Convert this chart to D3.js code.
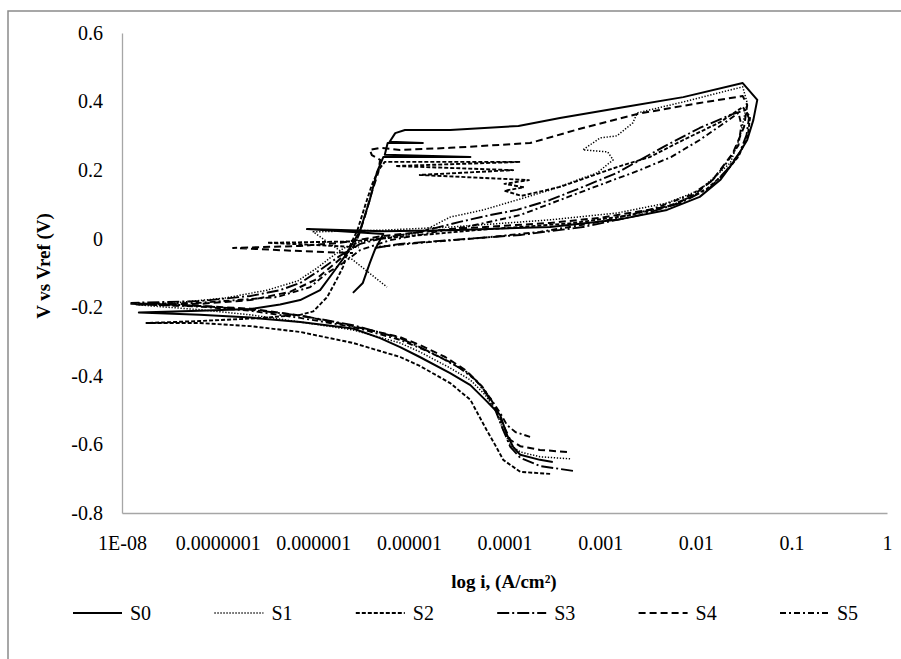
<!DOCTYPE html>
<html>
<head>
<meta charset="utf-8">
<script src="https://cdn.jsdelivr.net/npm/d3@7"></script>
<style>
  body { margin: 0; background: #fff; }
  svg { display: block; }
  text { font-family: "Liberation Serif", "Times New Roman", Times, serif; }
  .tick text { font-family: "Liberation Serif", "Times New Roman", Times, serif; font-size: 20px; fill: #000; }
</style>
</head>
<body>
<script>
// Series names and tick values
var seriesNames = ["S0", "S1", "S2", "S3", "S4", "S5"];
var xTickValues = [1e-8, 1e-7, 1e-6, 1e-5, 1e-4, 1e-3, 1e-2, 1e-1, 1];
var xTickLabels = ["1E-08", "0.0000001", "0.000001", "0.00001", "0.0001", "0.001", "0.01", "0.1", "1"];
var yTickValues = [-0.8, -0.6, -0.4, -0.2, 0, 0.2, 0.4, 0.6];
var yTickLabels = ["-0.8", "-0.6", "-0.4", "-0.2", "0", "0.2", "0.4", "0.6"];

// [current density (A/cm2), potential (V)], cathodic end first
var s0 = [
  [3.2e-4,-0.651],[2.35e-4,-0.645],[1.46e-4,-0.630],[1.23e-4,-0.607],[1.06e-4,-0.572],[9.0e-5,-0.514],
  [6.3e-5,-0.470],[4.4e-5,-0.427],[2.7e-5,-0.392],[1.3e-5,-0.345],[8.1e-6,-0.316],[5.0e-6,-0.290],
  [2.6e-6,-0.262],[7.3e-7,-0.243],[2.2e-7,-0.230],[6.5e-8,-0.222],[1.5e-8,-0.215],
  [6.5e-8,-0.210],[2.2e-7,-0.205],[4.5e-7,-0.192],[7.3e-7,-0.179],[1.18e-6,-0.150],[1.6e-6,-0.100],
  [2.26e-6,-0.042],[3.1e-6,0.025],[3.9e-6,0.113],[4.65e-6,0.195],[5.4e-6,0.238],[4.4e-5,0.238],
  [5.6e-6,0.245],[6.0e-6,0.279],[1.4e-5,0.279],[6.3e-6,0.283],[7.2e-6,0.308],[9.1e-6,0.317],
  [2.7e-5,0.317],[1.4e-4,0.329],[3.8e-4,0.352],[1.8e-3,0.384],[7.4e-3,0.413],[3.1e-2,0.454],
  [4.4e-2,0.405],[4.0e-2,0.346],[3.45e-2,0.288],[2.7e-2,0.238],[1.8e-2,0.171],[1.1e-2,0.122],
  [5.0e-3,0.084],[1.5e-3,0.055],[3.0e-4,0.034],[2.7e-5,0.025],[5.4e-6,0.022],[8.6e-7,0.028],
  [5.4e-6,0.014],[4.4e-6,-0.033],[3.9e-6,-0.071],[3.3e-6,-0.129],[2.6e-6,-0.158]
];
var s1 = [
  [4.85e-4,-0.642],[2.35e-4,-0.636],[1.46e-4,-0.622],[1.15e-4,-0.602],[9.7e-5,-0.558],[8.0e-5,-0.499],
  [6.3e-5,-0.456],[4.4e-5,-0.412],[2.7e-5,-0.377],[1.3e-5,-0.330],[8.1e-6,-0.304],[2.6e-6,-0.266],
  [7.3e-7,-0.243],[2.2e-7,-0.222],[6.5e-8,-0.207],[2.0e-8,-0.196],[1.4e-8,-0.192],
  [3.6e-8,-0.187],[1.2e-7,-0.173],[3.3e-7,-0.150],[6.9e-7,-0.123],[1.1e-6,-0.085],[1.5e-6,-0.056],
  [2.1e-6,-0.027],[3.1e-6,-0.010],[5.0e-6,0.000],[1.3e-5,0.017],[2.7e-5,0.063],[6.0e-5,0.084],
  [1.35e-4,0.113],[3.0e-4,0.142],[9.3e-4,0.192],[1.37e-3,0.230],[1.2e-3,0.253],[6.6e-4,0.259],
  [1.0e-3,0.294],[1.5e-3,0.300],[2.2e-3,0.338],[2.45e-3,0.367],[7.4e-3,0.399],[3.1e-2,0.443],
  [3.45e-2,0.396],[2.9e-2,0.297],[2.3e-2,0.221],[1.1e-2,0.142],[5.0e-3,0.104],[1.5e-3,0.075],
  [3.0e-4,0.055],[2.7e-5,0.034],[5.4e-6,0.025],[1.0e-6,0.020],[2.6e-6,-0.062],[5.9e-6,-0.141]
];
var s2 = [
  [3.0e-4,-0.686],[1.46e-4,-0.680],[9.7e-5,-0.645],[8.0e-5,-0.602],[6.5e-5,-0.558],[5.0e-5,-0.499],
  [4.4e-5,-0.470],[2.7e-5,-0.421],[1.3e-5,-0.371],[8.1e-6,-0.345],[2.6e-6,-0.304],[7.3e-7,-0.272],
  [2.2e-7,-0.255],[6.5e-8,-0.246],[1.8e-8,-0.246],
  [6.5e-8,-0.240],[2.6e-7,-0.232],[7.3e-7,-0.222],[1.0e-6,-0.212],[1.4e-6,-0.170],[1.75e-6,-0.120],
  [2.05e-6,-0.082],[2.26e-6,-0.042],[2.5e-6,-0.012],[2.9e-6,0.025],[3.5e-6,0.098],[4.1e-6,0.157],
  [4.8e-6,0.200],[5.6e-6,0.224],[1.46e-4,0.224],[7.2e-6,0.212],[1.23e-4,0.200],[1.3e-5,0.186],
  [1.8e-4,0.171],[1.0e-4,0.160],[1.6e-4,0.150],[1.0e-4,0.140],[1.5e-4,0.125],[3.8e-4,0.151],
  [1.5e-3,0.209],[3.3e-3,0.238],[7.4e-3,0.288],[1.8e-2,0.340],[3.1e-2,0.384],
  [3.7e-2,0.355],[3.5e-2,0.300],[2.8e-2,0.240],[2.0e-2,0.190],[1.3e-2,0.145],[6.0e-3,0.100],
  [2.0e-3,0.068],[5.0e-4,0.045],[5.0e-5,0.025],[8.0e-6,0.005],[2.5e-6,-0.008],[3.3e-7,-0.012],
  [1.0e-6,-0.018],[3.0e-6,-0.025]
];
var s3 = [
  [5.2e-4,-0.677],[2.35e-4,-0.663],[1.46e-4,-0.639],[1.15e-4,-0.607],[9.7e-5,-0.558],[8.0e-5,-0.499],
  [6.6e-5,-0.456],[5.0e-5,-0.412],[3.4e-5,-0.377],[2.1e-5,-0.345],[1.3e-5,-0.316],[8.1e-6,-0.290],
  [2.6e-6,-0.252],[7.3e-7,-0.224],[2.2e-7,-0.207],[6.5e-8,-0.196],[1.25e-8,-0.187],
  [6.5e-8,-0.182],[2.2e-7,-0.167],[4.5e-7,-0.150],[7.3e-7,-0.129],[1.18e-6,-0.091],[1.9e-6,-0.050],
  [3.1e-6,-0.015],[5.4e-6,0.002],[1.3e-5,0.020],[3.4e-5,0.049],[7.1e-5,0.069],[1.35e-4,0.084],
  [3.0e-4,0.113],[6.6e-4,0.151],[1.5e-3,0.192],[4.6e-3,0.268],[1.1e-2,0.323],[2.3e-2,0.361],
  [3.3e-2,0.375],
  [3.6e-2,0.352],[3.4e-2,0.303],[2.9e-2,0.253],[2.1e-2,0.200],[1.4e-2,0.148],[6.9e-3,0.104],
  [2.6e-3,0.069],[6.6e-4,0.034],[1.46e-4,0.011],[2.7e-5,-0.004],[8.1e-6,-0.015],[4.4e-6,-0.027]
];
var s4 = [
  [4.5e-4,-0.622],[2.35e-4,-0.616],[1.46e-4,-0.605],[1.15e-4,-0.587],[9.7e-5,-0.543],[8.3e-5,-0.499],
  [7.1e-5,-0.465],[5.6e-5,-0.427],[3.9e-5,-0.383],[2.4e-5,-0.345],[1.3e-5,-0.310],[8.1e-6,-0.287],
  [2.6e-6,-0.255],[7.3e-7,-0.224],[2.2e-7,-0.204],[6.5e-8,-0.196],[1.4e-8,-0.192],
  [6.5e-8,-0.190],[2.2e-7,-0.179],[5.7e-7,-0.155],[1.05e-6,-0.120],[1.7e-6,-0.071],[2.6e-6,-0.027],
  [3.0e-6,0.011],[3.5e-6,0.069],[4.1e-6,0.136],[4.8e-6,0.195],[5.0e-6,0.230],[4.1e-6,0.244],
  [3.9e-6,0.259],[5.0e-6,0.265],[8.1e-6,0.259],[2.7e-5,0.265],[1.85e-4,0.279],[6.6e-4,0.323],
  [2.45e-3,0.364],[1.1e-2,0.396],[3.1e-2,0.416],
  [3.45e-2,0.390],[3.2e-2,0.326],[2.45e-2,0.250],[1.5e-2,0.171],[9.0e-3,0.122],[5.0e-3,0.093],
  [1.0e-3,0.061],[3.0e-4,0.046],[2.7e-5,0.028],[5.4e-6,0.008],[1.9e-6,-0.012],[7.3e-7,-0.021],
  [1.45e-7,-0.027],[7.3e-7,-0.036],[2.6e-6,-0.042]
];
var s5 = [
  [1.85e-4,-0.578],[1.3e-4,-0.564],[1.06e-4,-0.543],[9.0e-5,-0.508],[7.3e-5,-0.470],[5.8e-5,-0.430],
  [4.2e-5,-0.392],[2.7e-5,-0.360],[1.45e-5,-0.324],[8.1e-6,-0.295],[2.6e-6,-0.257],[7.3e-7,-0.231],
  [2.2e-7,-0.210],[6.5e-8,-0.198],[1.25e-8,-0.190],
  [6.5e-8,-0.187],[2.2e-7,-0.176],[4.2e-7,-0.170],[9.3e-7,-0.141],[1.4e-6,-0.100],[2.05e-6,-0.071],
  [3.1e-6,-0.033],[6.4e-6,-0.004],[1.67e-5,0.017],[4.4e-5,0.037],[1.46e-4,0.069],[3.8e-4,0.113],
  [1.0e-3,0.157],[2.6e-3,0.200],[5.5e-3,0.238],[1.1e-2,0.288],[2.0e-2,0.338],[2.8e-2,0.367],
  [3.0e-2,0.332],[2.8e-2,0.273],[2.1e-2,0.221],[1.5e-2,0.171],[9.0e-3,0.128],[3.3e-3,0.084],
  [1.0e-3,0.049],[2.35e-4,0.020],[5.6e-5,0.002],[1.3e-5,-0.012],[4.65e-6,-0.024]
];

var allSeries = [s0, s1, s2, s3, s4, s5];

// line look per series (solid, dotted, short dash, long dash-dot, dash, dash-dot)
var dashes = [null, "1.3,1.7", "4,2", "12,3,2,3", "7,4", "6,3,2,3"];
var widths = [2, 1.5, 1.9, 1.9, 2, 1.9];

var svgWidth = 901;
var svgHeight = 659;

var margin = { top: 33, right: 14, bottom: 146, left: 122 };
var width = 887 - margin.left;
var height = 513 - margin.top;

var svg = d3.select("body")
  .append("svg")
  .attr("width", svgWidth)
  .attr("height", svgHeight);

// outer chart frame
svg.append("rect")
  .attr("x", 8)
  .attr("y", 11)
  .attr("width", 1000)
  .attr("height", 1000)
  .attr("fill", "none")
  .attr("stroke", "#8a8a8a")
  .attr("stroke-width", 1.5);

var chartGroup = svg.append("g")
  .attr("transform", `translate(${margin.left}, ${margin.top})`);

// Scales
var xScale = d3.scaleLog()
  .domain([1e-8, 1])
  .range([0, width]);

var yScale = d3.scaleLinear()
  .domain([-0.8, 0.6])
  .range([height, 0]);

// Axes
var bottomAxis = d3.axisBottom(xScale)
  .tickValues(xTickValues)
  .tickFormat(function(d, i) { return xTickLabels[i]; })
  .tickSize(0)
  .tickPadding(23);

var leftAxis = d3.axisLeft(yScale)
  .tickValues(yTickValues)
  .tickFormat(function(d, i) { return yTickLabels[i]; })
  .tickSize(0)
  .tickPadding(19);

var xAxisG = chartGroup.append("g")
  .attr("transform", `translate(0, ${height})`)
  .call(bottomAxis);

var yAxisG = chartGroup.append("g")
  .call(leftAxis);

[xAxisG, yAxisG].forEach(function(g) {
  g.attr("font-family", null);
  g.select(".domain").attr("stroke", "#a6a6a6").attr("stroke-width", 1.3);
});

// Line generator
var line = d3.line()
  .x(function(d) { return xScale(d[0]); })
  .y(function(d) { return yScale(d[1]); });

allSeries.forEach(function(data, i) {
  chartGroup.append("path")
    .datum(data)
    .attr("d", line)
    .attr("fill", "none")
    .attr("stroke", "#000")
    .attr("stroke-width", widths[i])
    .attr("stroke-linejoin", "round")
    .attr("stroke-dasharray", dashes[i]);
});

// Axis titles
svg.append("text")
  .attr("x", 504)
  .attr("y", 588)
  .attr("text-anchor", "middle")
  .style("font-size", "19px")
  .style("font-weight", "bold")
  .text("log i, (A/cm²)");

svg.append("text")
  .attr("transform", "translate(50, 266) rotate(-90)")
  .attr("text-anchor", "middle")
  .style("font-size", "19px")
  .style("font-weight", "bold")
  .text("V vs Vref (V)");

// Legend
var legend = svg.append("g").selectAll("g")
  .data(seriesNames)
  .enter()
  .append("g")
  .attr("transform", function(d, i) { return `translate(${130 + i * 141.4}, 613)`; });

legend.append("line")
  .attr("x1", -57)
  .attr("x2", -8)
  .attr("y1", 0)
  .attr("y2", 0)
  .attr("stroke", "#000")
  .attr("stroke-width", function(d, i) { return widths[i]; })
  .attr("stroke-dasharray", function(d, i) { return dashes[i]; });

legend.append("text")
  .attr("x", 0)
  .attr("y", 7)
  .style("font-size", "20px")
  .text(function(d) { return d; });
</script>
</body>
</html>
